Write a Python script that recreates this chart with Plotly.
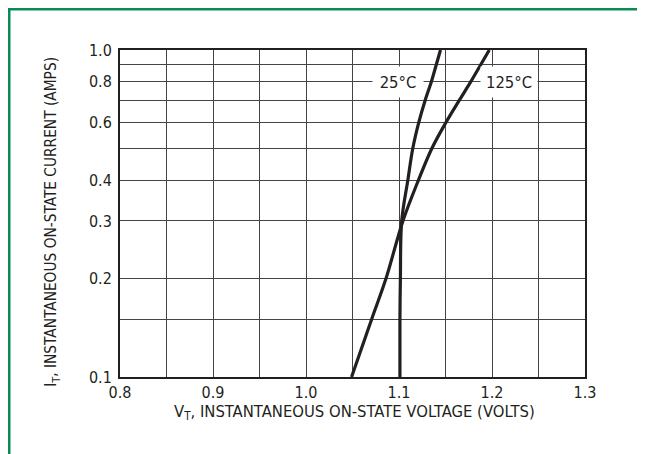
import math
import plotly.graph_objects as go

# Data (V_T in volts, I_T in amps)
v_25c = [1.101, 1.101, 1.1015, 1.1029, 1.1095, 1.1148, 1.1212, 1.1280, 1.1348, 1.1400, 1.1446]
i_25c = [0.10, 0.15, 0.20, 0.30, 0.40, 0.50, 0.60, 0.70, 0.80, 0.90, 1.00]
v_125c = [1.049, 1.0705, 1.0860, 1.1042, 1.1209, 1.1353, 1.1504, 1.1646, 1.1772, 1.1877, 1.1971]
i_125c = [0.10, 0.15, 0.20, 0.30, 0.40, 0.50, 0.60, 0.70, 0.80, 0.90, 1.00]

x_tickvals = [0.8, 0.9, 1.0, 1.1, 1.2, 1.3]
x_ticktext = ["0.8", "0.9", "1.0", "1.1", "1.2", "1.3"]
x_minor_grid = [0.85, 0.95, 1.05, 1.15, 1.25]
y_tickvals = [0.1, 0.2, 0.3, 0.4, 0.6, 0.8, 1.0]
y_ticktext = ["0.1", "0.2", "0.3", "0.4", "0.6", "0.8", "1.0"]
y_minor_grid = [0.15, 0.5, 0.7, 0.9]

curve_labels = ["25°C", "125°C"]
label_x = [1.0992, 1.2185]
label_y = [0.8, 0.8]

x_title = "V<sub>T</sub>, INSTANTANEOUS ON-STATE VOLTAGE (VOLTS)"
y_title = "I<sub>T</sub>, INSTANTANEOUS ON-STATE CURRENT (AMPS)"

FONT = "Liberation Sans Narrow, DejaVu Sans Condensed, Arial Narrow, sans-serif"
INK = "#231f20"
GRID = "#444444"

fig = go.Figure()
for vx, iy in ((v_25c, i_25c), (v_125c, i_125c)):
    fig.add_trace(go.Scatter(x=vx, y=iy, mode="lines",
                             line=dict(color=INK, width=3.2, shape="spline", smoothing=1.0),
                             showlegend=False, hoverinfo="skip"))

for t, xx, yy, w in zip(curve_labels, label_x, label_y, [48, 54]):
    fig.add_annotation(x=xx, y=math.log10(yy), xref="x", yref="y", text=t,
                       showarrow=False, bgcolor="white", width=w, height=28,
                       font=dict(family=FONT, size=16.5, color=INK))

fig.update_layout(
    width=645, height=454,
    margin=dict(l=112, r=68, t=42, b=85),
    paper_bgcolor="white", plot_bgcolor="white",
    font=dict(family=FONT, size=16, color=INK),
    xaxis=dict(range=[0.8, 1.3], tickvals=x_tickvals, ticktext=x_ticktext,
               showgrid=True, gridcolor=GRID, gridwidth=1,
               minor=dict(tickvals=x_minor_grid, showgrid=True, gridcolor=GRID,
                          gridwidth=1, ticks=""),
               showline=True, linecolor=INK, linewidth=2, mirror=True,
               ticks="", zeroline=False, tickfont=dict(size=16)),
    yaxis=dict(type="log", range=[-1, 0], tickvals=y_tickvals, ticktext=y_ticktext,
               showgrid=True, gridcolor=GRID, gridwidth=1,
               minor=dict(tickvals=y_minor_grid, showgrid=True, gridcolor=GRID,
                          gridwidth=1, ticks=""),
               showline=True, linecolor=INK, linewidth=2, mirror=True,
               ticks="", zeroline=False, tickfont=dict(size=16),
               ticklabelstandoff=3),
)

fig.add_annotation(x=-0.172, y=0.475, xref="paper", yref="paper",
                   text=y_title, textangle=-90, showarrow=False,
                   font=dict(family=FONT, size=15.3, color=INK))
fig.add_annotation(x=0.505, y=-0.147, xref="paper", yref="paper",
                   text=x_title, showarrow=False,
                   font=dict(family=FONT, size=16.5, color=INK))

# green frame around the whole figure
fig.add_shape(type="rect", xref="paper", yref="paper",
              x0=-0.2387, y0=-0.35, x1=1.2, y1=1.1254,
              line=dict(color="#0b8a55", width=3), fillcolor="rgba(0,0,0,0)",
              layer="below")

fig.write_html("out.html")
